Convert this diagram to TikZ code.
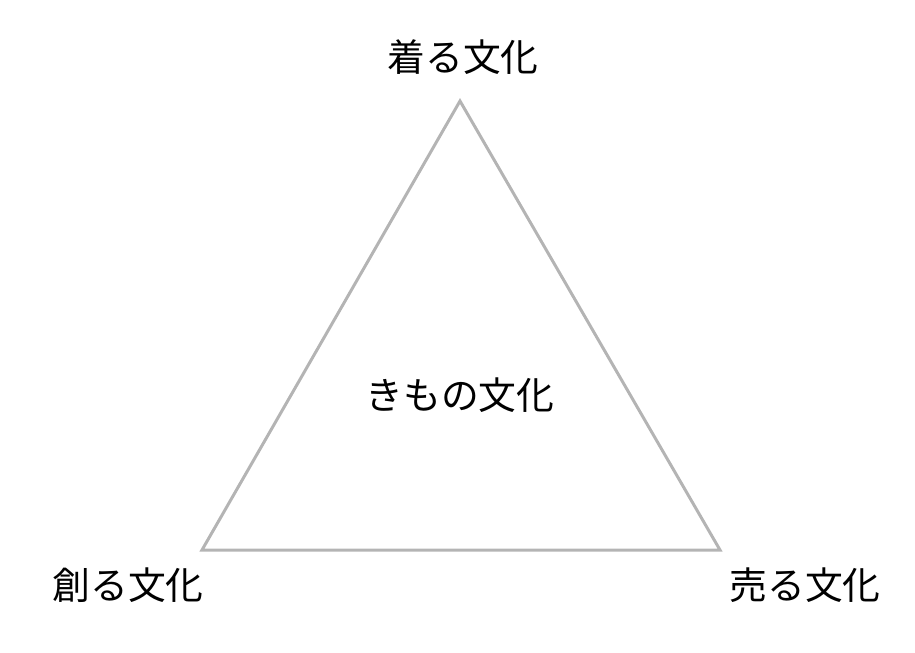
\documentclass[tikz,border=0pt]{standalone}
\usepackage{fontspec}
\newfontfamily\jpfont{Noto Sans CJK JP}
\usepackage{tikz}
\usetikzlibrary{positioning}
\definecolor{edgegray}{RGB}{180,180,180}
\tikzset{
    culture/.style={
           font=\jpfont\fontsize{21.5pt}{24pt}\selectfont,
           inner sep=0pt,
           text centered},
    side/.style={
           draw=edgegray, line width=1.7pt, line join=miter},
}

\begin{document}
\begin{tikzpicture}[x=0.02cm,y=-0.02cm]

 \useasboundingbox (0,0) rectangle (915,652);

 % corners of the triangle
 \coordinate (TOP) at (460,101);
 \coordinate (LEFT) at (202,550);
 \coordinate (RIGHT) at (720,550);

 \draw[side] (TOP) -- (LEFT) -- (RIGHT) -- cycle;

 \node[culture] (KIRU) at (463,57) {着る文化};
 \node[culture] (TSUKURU) at (128,585) {創る文化};
 \node[culture] (URU) at (805,585) {売る文化};
 \node[culture] (KIMONO) at (460,395) {きもの文化};

\end{tikzpicture}
\end{document}
